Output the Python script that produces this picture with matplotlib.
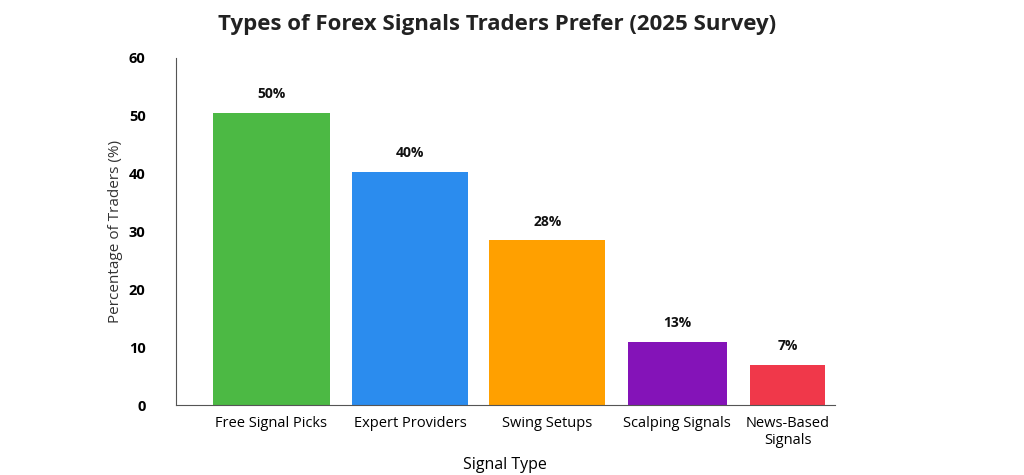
import matplotlib
matplotlib.use("Agg")
import matplotlib.pyplot as plt

# data
categories = ["Free Signal Picks", "Expert Providers", "Swing Setups", "Scalping Signals", "News-Based\nSignals"]
heights = [50.5, 40.3, 28.5, 11.0, 7.0]
value_labels = ["50%", "40%", "28%", "13%", "7%"]
colors = ["#4cb944", "#2b8cee", "#ffa000", "#8413b8", "#f0384a"]

# layout of the bars (positions / widths vary in the reference)
xpos = [0, 1.005, 2.0, 2.94, 3.74]
widths = [0.85, 0.84, 0.84, 0.72, 0.54]

plt.rcParams['font.family'] = ['Open Sans', 'DejaVu Sans']

fig = plt.figure(figsize=(10.24, 4.75), dpi=100)
ax = fig.add_axes([0.172, 0.147, 0.643, 0.731])

ax.bar(xpos, heights, width=widths, color=colors)
for x, h, lab in zip(xpos, heights, value_labels):
    ax.text(x, h + 2, lab, ha='center', va='bottom', fontsize=10, fontweight='bold', color='#111111')

ax.set_xlim(-0.69, 4.08)
ax.set_ylim(0, 60)
ax.set_yticks(range(0, 61, 10))
ax.set_xticks(xpos)
ax.set_xticklabels(categories, fontsize=10.5)
for t in ax.get_yticklabels():
    t.set_fontweight('bold')
    t.set_fontsize(10.5)
ax.tick_params(length=0, pad=8)
ax.tick_params(axis='y', pad=22)
for s in ['top', 'right']:
    ax.spines[s].set_visible(False)
ax.spines['left'].set_color('#555555')
ax.spines['bottom'].set_color('#555555')

ax.set_ylabel("Percentage of Traders (%)", fontsize=11, color='#333333')
ax.set_xlabel("Signal Type", fontsize=11.5, labelpad=6)
fig.suptitle("Types of Forex Signals Traders Prefer (2025 Survey)", x=0.485, y=0.97,
             fontsize=16, fontweight='bold', color='#222222')

fig.savefig("out.png", dpi=100)
